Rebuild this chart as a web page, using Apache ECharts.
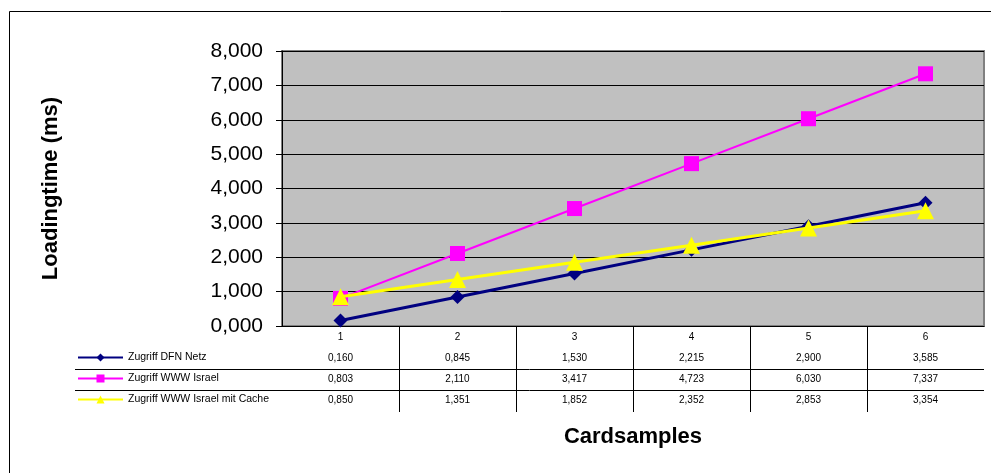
<!DOCTYPE html>
<html>
<head>
<meta charset="utf-8">
<script src="https://cdn.jsdelivr.net/npm/echarts@6/dist/echarts.min.js"></script>
<style>
html,body{margin:0;padding:0;background:#fff;}
#c{width:991px;height:473px;}
</style>
</head>
<body>
<div id="c"></div>
<script>
const categories = ['1','2','3','4','5','6'];
const seriesNames = ['Zugriff DFN Netz','Zugriff WWW Israel','Zugriff WWW Israel mit Cache'];
const dfnNetz = [0.160,0.845,1.530,2.215,2.900,3.585];
const wwwIsrael = [0.803,2.110,3.417,4.723,6.030,7.337];
const wwwIsraelCache = [0.850,1.351,1.852,2.352,2.853,3.354];
const yTicks = [0,1,2,3,4,5,6,7,8];

const FONT = '"Liberation Sans", Arial, sans-serif';
const fmt = v => v.toFixed(3).replace('.', ',');

const chart = echarts.init(document.getElementById('c'));

function rowAxis(values, margin) {
  return {
    type: 'category', gridIndex: 0, position: 'bottom',
    data: values.map(fmt),
    axisLine: {show: false}, axisTick: {show: false}, splitLine: {show: false},
    axisLabel: {margin: margin, fontSize: 10, fontFamily: FONT, color: '#000', interval: 0}
  };
}

chart.setOption({
  animation: false,
  backgroundColor: '#fff',
  grid: {left: 282, top: 51, right: 7, bottom: 147, show: true,
         backgroundColor: '#C0C0C0', borderColor: '#808080', borderWidth: 2},
  legend: {
    orient: 'vertical', left: 77, top: 352, padding: 0, itemWidth: 45, itemHeight: 10, itemGap: 10,
    data: seriesNames,
    textStyle: {fontSize: 10.5, fontFamily: FONT, color: '#000'}
  },
  xAxis: [
    {
      type: 'category', data: categories, boundaryGap: true,
      axisLine: {show: true, lineStyle: {color: '#000', width: 1}},
      axisTick: {show: false},
      axisLabel: {margin: 6, fontSize: 10, fontFamily: FONT, color: '#000'},
      name: 'Cardsamples', nameLocation: 'middle', nameGap: 100,
      nameTextStyle: {fontSize: 22, fontWeight: 'bold', fontFamily: FONT, color: '#000'}
    },
    rowAxis(dfnNetz, 27),
    rowAxis(wwwIsrael, 48),
    rowAxis(wwwIsraelCache, 69)
  ],
  yAxis: {
    type: 'value', min: yTicks[0], max: yTicks[yTicks.length-1], interval: 1,
    axisLine: {show: true, lineStyle: {color: '#000', width: 1}},
    axisTick: {show: true, length: 6, lineStyle: {color: '#000'}},
    axisLabel: {margin: 19, fontSize: 21, fontFamily: FONT, color: '#000', formatter: v => fmt(v)},
    splitLine: {show: true, lineStyle: {color: '#000', width: 1}},
    name: 'Loadingtime (ms)', nameLocation: 'middle', nameGap: 220, nameRotate: 90,
    nameTextStyle: {fontSize: 22, fontWeight: 'bold', fontFamily: FONT, color: '#000'}
  },
  series: [
    {name: seriesNames[0], type: 'line', data: dfnNetz, symbol: 'diamond', symbolSize: 14,
     lineStyle: {color: '#000080', width: 3}, itemStyle: {color: '#000080'}, z: 2},
    {name: seriesNames[1], type: 'line', data: wwwIsrael, symbol: 'rect', symbolSize: 15,
     lineStyle: {color: '#FF00FF', width: 2}, itemStyle: {color: '#FF00FF'}, z: 3},
    {name: seriesNames[2], type: 'line', data: wwwIsraelCache, symbol: 'triangle', symbolSize: 17,
     lineStyle: {color: '#FFFF00', width: 3}, itemStyle: {color: '#FFFF00'}, z: 4}
  ]
});

// table lines built from axis positions
const p0 = chart.convertToPixel({xAxisIndex: 0}, categories[0]);
const p1 = chart.convertToPixel({xAxisIndex: 0}, categories[1]);
const bw = p1 - p0;
const yBottom = chart.convertToPixel({yAxisIndex: 0}, 0);
const xRight = chart.convertToPixel({xAxisIndex: 0}, categories[categories.length-1]) + bw/2;
const els = [];
for (let i = 0; i < categories.length - 1; i++) {
  const x = Math.round(chart.convertToPixel({xAxisIndex: 0}, categories[i]) + bw/2) + 0.5;
  els.push({type: 'line', shape: {x1: x, y1: yBottom, x2: x, y2: yBottom + 86},
            style: {stroke: '#000', lineWidth: 1}});
}
[43, 64].forEach(dy => {
  const y = Math.round(yBottom + dy) + 0.5;
  els.push({type: 'line', shape: {x1: 75, y1: y, x2: xRight, y2: y},
            style: {stroke: '#000', lineWidth: 1}});
});
els.push({type: 'rect', shape: {x: 9.5, y: 11.5, width: 1100, height: 600},
          style: {fill: 'none', stroke: '#000', lineWidth: 1}, silent: true});
chart.setOption({graphic: els});
</script>
</body>
</html>
